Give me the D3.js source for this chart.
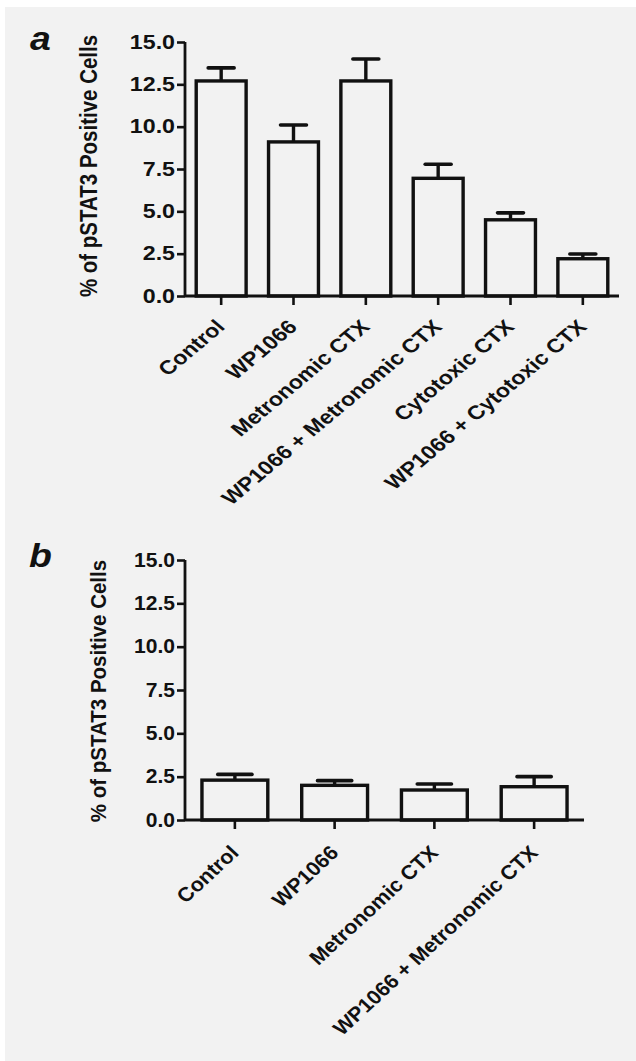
<!DOCTYPE html>
<html>
<head>
<meta charset="utf-8">
<script src="https://cdn.jsdelivr.net/npm/d3@7"></script>
<style>
  html, body { margin: 0; padding: 0; background: #ffffff; }
  svg { display: block; }
</style>
</head>
<body>
<script>
// ---------------- data ----------------
const categoriesA = ["Control", "WP1066", "Metronomic CTX", "WP1066 + Metronomic CTX", "Cytotoxic CTX", "WP1066 + Cytotoxic CTX"];
const meansA = [12.7, 9.1, 12.7, 6.95, 4.5, 2.2];
const errorsA = [0.77, 1.0, 1.3, 0.83, 0.41, 0.28];

const categoriesB = ["Control", "WP1066", "Metronomic CTX", "WP1066 + Metronomic CTX"];
const meansB = [2.3, 2.0, 1.73, 1.92];
const errorsB = [0.33, 0.27, 0.35, 0.58];

const yTicks = [0, 2.5, 5, 7.5, 10, 12.5, 15];
const yLabel = "% of pSTAT3 Positive Cells";
const panelLetters = ["a", "b"];

// ---------------- drawing ----------------
const W = 636, H = 1061;
const svg = d3.select("body").append("svg").attr("width", W).attr("height", H);

svg.append("rect").attr("x", 0).attr("y", 0).attr("width", W).attr("height", H).attr("fill", "#ffffff");
svg.append("rect").attr("x", 5).attr("y", 7).attr("width", W - 5).attr("height", H - 7).attr("fill", "#f2f2f2");

const FONT = "'Liberation Sans', Arial, Helvetica, sans-serif";
const INK = "#111";

function drawPanel(opt) {
  const SX = opt.sx;   // horizontal stretch of the panel's lettering
  const g = svg.append("g");
  const x = d3.scaleBand()
    .domain(opt.categories)
    .range([opt.x0, opt.x1])
    .paddingInner(opt.pad)
    .paddingOuter(opt.pad / 2);
  const y = d3.scaleLinear().domain([0, 15]).range([opt.yBottom, opt.yTop]);

  const bw = x.bandwidth();
  const capW = bw * 0.52;

  // bars
  g.selectAll("rect.bar").data(opt.categories).enter().append("rect")
    .attr("class", "bar")
    .attr("x", d => x(d))
    .attr("y", (d, i) => y(opt.means[i]))
    .attr("width", bw)
    .attr("height", (d, i) => y(0) - y(opt.means[i]))
    .attr("fill", "#f2f2f2")
    .attr("stroke", INK)
    .attr("stroke-width", 3.4);

  // error bars (upper only)
  g.selectAll("line.err").data(opt.categories).enter().append("line")
    .attr("x1", d => x(d) + bw / 2)
    .attr("x2", d => x(d) + bw / 2)
    .attr("y1", (d, i) => y(opt.means[i]))
    .attr("y2", (d, i) => y(opt.means[i] + opt.errors[i]))
    .attr("stroke", INK).attr("stroke-width", 3.4);
  g.selectAll("line.cap").data(opt.categories).enter().append("line")
    .attr("x1", d => x(d) + bw / 2 - capW / 2)
    .attr("x2", d => x(d) + bw / 2 + capW / 2)
    .attr("y1", (d, i) => y(opt.means[i] + opt.errors[i]))
    .attr("y2", (d, i) => y(opt.means[i] + opt.errors[i]))
    .attr("stroke", INK).attr("stroke-width", 3.6)
    .attr("stroke-linecap", "round");

  // y axis
  const yAxis = d3.axisLeft(y).tickValues(yTicks).tickFormat(d3.format(".1f")).tickSize(8).tickPadding(3);
  const ya = g.append("g").attr("transform", `translate(${opt.x0},0)`).call(yAxis);
  ya.select(".domain").attr("stroke", INK).attr("stroke-width", 2.8)
    .attr("d", `M0,${opt.yTop}V${opt.yBottom}`);
  ya.selectAll(".tick line").attr("stroke", INK).attr("stroke-width", 2.6);
  ya.selectAll(".tick text")
    .attr("x", null)
    .attr("transform", `translate(-10,0) scale(${SX},1)`)
    .attr("font-family", FONT).attr("font-weight", "bold").attr("font-size", 19.5)
    .attr("fill", INK);

  // x axis
  const xAxis = d3.axisBottom(x).tickSize(9).tickFormat("");
  const xa = g.append("g").attr("transform", `translate(0,${opt.yBottom})`).call(xAxis);
  xa.select(".domain").attr("stroke", INK).attr("stroke-width", 2.8)
    .attr("d", `M${opt.x0},0H${opt.x1}`);
  xa.selectAll(".tick line").attr("stroke", INK).attr("stroke-width", 2.6);

  // rotated x labels
  g.selectAll("text.xl").data(opt.categories).enter().append("text")
    .attr("class", "xl")
    .attr("transform", d => `translate(${x(d) + bw / 2 + 5},${opt.yBottom + opt.labelDrop}) scale(${SX},1) rotate(-45)`)
    .attr("text-anchor", "end")
    .attr("font-family", FONT).attr("font-weight", "bold").attr("font-size", opt.labelSize)
    .attr("fill", INK)
    .text(d => d);

  // y label
  g.append("text")
    .attr("transform", `translate(${opt.yLabelX},${(opt.yTop + opt.yBottom) / 2 + opt.yLabelShift}) scale(${SX},1) rotate(-90)`)
    .attr("text-anchor", "middle")
    .attr("font-family", FONT).attr("font-weight", "bold").attr("font-size", 20.5)
    .attr("fill", INK)
    .text(yLabel);

  // panel letter
  g.append("text")
    .attr("transform", `translate(${opt.letterX},${opt.letterY}) scale(1.1,1)`)
    .attr("font-family", FONT)
    .attr("font-weight", "bold").attr("font-style", "italic")
    .attr("font-size", 34).attr("fill", INK)
    .text(opt.letter);
}

drawPanel({
  categories: categoriesA, means: meansA, errors: errorsA, sx: 1.19, labelSize: 19.5,
  x0: 185, x1: 619, pad: 0.31, yTop: 42, yBottom: 296, labelDrop: 32,
  yLabelX: 97, yLabelShift: -3, letter: panelLetters[0], letterX: 30, letterY: 50
});

drawPanel({
  categories: categoriesB, means: meansB, errors: errorsB, sx: 1.08, labelSize: 20,
  x0: 185, x1: 584, pad: 0.34, yTop: 560, yBottom: 820, labelDrop: 34,
  yLabelX: 106, yLabelShift: 1, letter: panelLetters[1], letterX: 29, letterY: 567
});
</script>
</body>
</html>
